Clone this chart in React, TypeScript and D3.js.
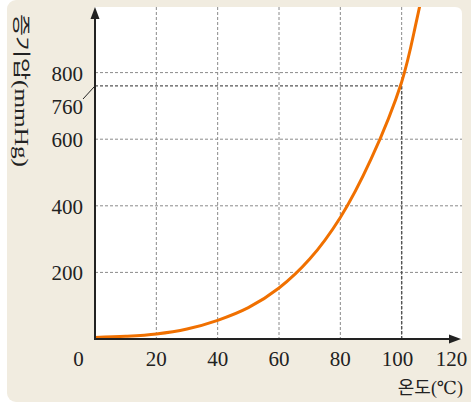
import React from 'react';
import * as d3 from 'd3';

// 온도(℃) vs 증기압(mmHg)
const temps = [0, 10, 20, 30, 40, 50, 60, 70, 80, 90, 100, 105, 110];
const pressures = [4.6, 8, 15, 30, 56, 94, 153, 240, 365, 540, 772, 962, 1190];

const xTicks = [0, 20, 40, 60, 80, 100, 120];
const yTicks = [200, 400, 600, 800];
const xGrid = [20, 40, 60, 80, 100];
const boilT = 100;
const boilP = 760;

const W = 471;
const H = 404;
const plot = { l: 95, r: 463, t: 6, b: 339 };

const serif = "'Liberation Serif', 'DejaVu Serif', serif";
const kr = "'Noto Sans CJK KR', sans-serif";

export default function App() {
  const x = d3.scaleLinear().domain([0, 120]).range([plot.l, plot.r]);
  const y = d3.scaleLinear().domain([0, 1000]).range([plot.b, plot.t]);

  const line = d3
    .line<number>()
    .x((_, i) => x(temps[i]))
    .y((d) => y(d))
    .curve(d3.curveCatmullRom.alpha(0.5));

  const top = 7;
  const right = 462;
  const r = 7;
  const whiteArea = `M${plot.l},${top} H${right - r} Q${right},${top} ${right},${top + r} V${plot.b} H${plot.l} Z`;

  return (
    <svg
      width={W}
      height={H}
      style={{ position: 'absolute', left: 0, top: 0 }}
    >
      <defs>
        <clipPath id="plotClip">
          <rect x={plot.l} y={top} width={right - plot.l} height={plot.b - top} />
        </clipPath>
      </defs>
      <rect x={7} y={0} width={480} height={402} rx={9} fill="#f1ece0" />
      <path d={whiteArea} fill="#fff" />

      {/* grid */}
      <g stroke="#8a8a8a" strokeWidth={1} strokeDasharray="3,2" fill="none">
        {xGrid.map((t) => (
          <line key={`gx${t}`} x1={x(t)} x2={x(t)} y1={top} y2={plot.b} />
        ))}
        {yTicks.map((p) => (
          <line key={`gy${p}`} x1={plot.l} x2={right} y1={y(p)} y2={y(p)} />
        ))}
      </g>
      {/* 760 mmHg guide */}
      <g stroke="#555" strokeWidth={1.4} strokeDasharray="3,2" fill="none">
        <line x1={plot.l} x2={x(boilT)} y1={y(boilP)} y2={y(boilP)} />
        <line x1={x(boilT)} x2={x(boilT)} y1={y(boilP)} y2={plot.b} />
      </g>

      {/* curve */}
      <path
        d={line(pressures) as string}
        fill="none"
        stroke="#f07000"
        strokeWidth={3}
        clipPath="url(#plotClip)"
      />

      {/* axes */}
      <g stroke="#222" strokeWidth={2}>
        <line x1={plot.l} x2={plot.l} y1={plot.b} y2={16} />
        <line x1={plot.l - 1} x2={452} y1={plot.b} y2={plot.b} />
      </g>
      <path d={`M${plot.l},7 L${plot.l - 4.5},19 L${plot.l + 4.5},19 Z`} fill="#222" />
      <path d={`M461,${plot.b} L449,${plot.b - 4.5} L449,${plot.b + 4.5} Z`} fill="#222" />

      {/* y tick labels */}
      <g fontFamily={serif} fontSize={21} fill="#222" textAnchor="end">
        {yTicks.map((p) => (
          <text key={`ty${p}`} x={83} y={y(p) + 8}>
            {p}
          </text>
        ))}
        <text x={83} y={y(boilP) + 28}>
          {boilP}
        </text>
      </g>
      <line x1={83} y1={99} x2={plot.l} y2={y(boilP)} stroke="#222" strokeWidth={1} />

      {/* x tick labels */}
      <g fontFamily={serif} fontSize={21} fill="#222" textAnchor="middle">
        {xTicks.map((t, i) => {
          let px = x(t);
          if (i === 0) px = 78.5;
          if (t === 100) px = 397.5;
          if (i === xTicks.length - 1) px = 451.5;
          return (
            <text key={`tx${t}`} x={px} y={366}>
              {t}
            </text>
          );
        })}
      </g>

      {/* axis titles */}
      <text x={463} y={394} textAnchor="end" fontSize={18} fill="#222">
        <tspan fontFamily={kr}>온도</tspan>
        <tspan fontFamily={serif}>(℃)</tspan>
      </text>
      <text
        transform="translate(15,14) rotate(90)"
        fill="#222"
        fontSize={19}
        textLength={153}
        lengthAdjust="spacingAndGlyphs"
      >
        <tspan fontFamily={kr} fontSize={18}>증기압</tspan>
        <tspan fontFamily={serif}>(mmHg)</tspan>
      </text>
    </svg>
  );
}
